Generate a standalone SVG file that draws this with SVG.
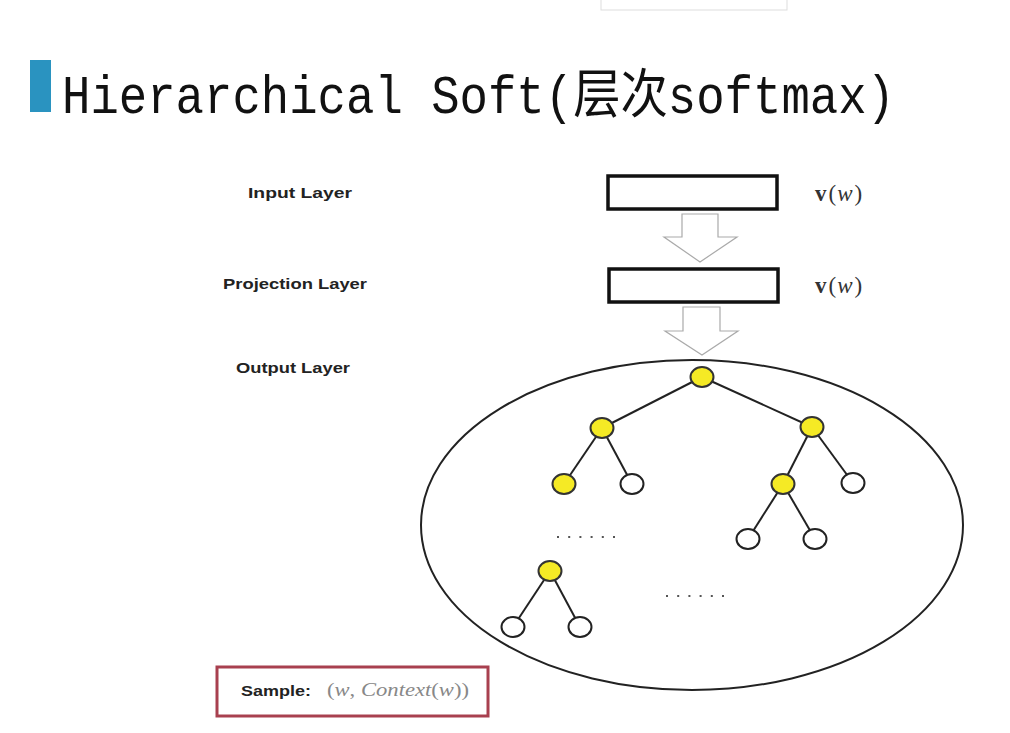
<svg xmlns="http://www.w3.org/2000/svg" width="1010" height="733" viewBox="0 0 1010 733">
<style>
.lbl{font-family:"Liberation Sans",Arial,sans-serif;font-weight:bold;font-size:15px;fill:#222}
.math{font-family:"Liberation Serif","Times New Roman",serif;font-size:23px;fill:#333}
.box{fill:#fff;stroke:#111;stroke-width:3.5}
.barrow{fill:#fff;stroke:#aaa;stroke-width:1.2}
.edge{stroke:#222;stroke-width:2;fill:none}
.yn{fill:#f5ea25;stroke:#333;stroke-width:2}
.wn{fill:#fff;stroke:#222;stroke-width:2}
.dots{stroke:#555;stroke-width:2.2;stroke-dasharray:2 9.2;fill:none}
</style>
<rect width="1010" height="733" fill="#fff"/>
<rect x="601" y="-5" width="186" height="15" fill="none" stroke="#ddd" stroke-width="1"/>
<g id="title">
<rect x="30" y="60" width="21" height="52" fill="#2a93c0"/>
<text transform="translate(62,113) scale(1,1.17)" x="0" y="0" font-family="Liberation Mono,'Noto Sans CJK SC',monospace" font-size="46" fill="#111" textLength="833" lengthAdjust="spacingAndGlyphs">Hierarchical Soft(层次softmax)</text>
</g>
<g id="labels">
<text class="lbl" x="248" y="198" textLength="104" lengthAdjust="spacingAndGlyphs">Input  Layer</text>
<text class="lbl" x="223" y="289" textLength="144" lengthAdjust="spacingAndGlyphs">Projection  Layer</text>
<text class="lbl" x="236" y="373" textLength="114" lengthAdjust="spacingAndGlyphs">Output Layer</text>
</g>
<g id="input-layer">
<rect class="box" x="608" y="176" width="169" height="33"/>
<text class="math" x="815" y="201"><tspan font-weight="bold">v</tspan><tspan dx="2">(</tspan><tspan dx="1" font-style="italic">w</tspan><tspan dx="2">)</tspan></text>
</g>
<g id="projection-layer">
<rect class="box" x="609" y="269" width="169" height="33"/>
<text class="math" x="815" y="293"><tspan font-weight="bold">v</tspan><tspan dx="2">(</tspan><tspan dx="1" font-style="italic">w</tspan><tspan dx="2">)</tspan></text>
</g>
<g id="connectors">
<path class="barrow" d="M682,214 H718 V237 H737 L700,262 L664,237 H682 Z"/>
<path class="barrow" d="M683,307 H720 V331 H738 L702,355 L665,331 H683 Z"/>
<line class="edge" x1="702" y1="377" x2="602" y2="428"/>
<line class="edge" x1="702" y1="377" x2="812" y2="427"/>
<line class="edge" x1="602" y1="428" x2="564" y2="484"/>
<line class="edge" x1="602" y1="428" x2="632" y2="484"/>
<line class="edge" x1="812" y1="427" x2="783" y2="484"/>
<line class="edge" x1="812" y1="427" x2="853" y2="483"/>
<line class="edge" x1="783" y1="484" x2="748" y2="539"/>
<line class="edge" x1="783" y1="484" x2="815" y2="539"/>
<line class="edge" x1="550" y1="571" x2="513" y2="627"/>
<line class="edge" x1="550" y1="571" x2="580" y2="627"/>
</g>
<g id="output-layer">
<ellipse cx="692" cy="525" rx="271" ry="165" fill="none" stroke="#222" stroke-width="2"/>
<path class="dots" d="M557,537 H615"/>
<path class="dots" d="M666,596 H724"/>
</g>
<g id="tree-nodes">
<ellipse class="yn" cx="702" cy="377" rx="11.5" ry="10"/>
<ellipse class="yn" cx="602" cy="428" rx="11.5" ry="10"/>
<ellipse class="yn" cx="812" cy="427" rx="11.5" ry="10"/>
<ellipse class="yn" cx="564" cy="484" rx="11.5" ry="10"/>
<ellipse class="wn" cx="632" cy="484" rx="11.5" ry="10"/>
<ellipse class="yn" cx="783" cy="484" rx="11.5" ry="10"/>
<ellipse class="wn" cx="853" cy="483" rx="11.5" ry="10"/>
<ellipse class="wn" cx="748" cy="539" rx="11.5" ry="10"/>
<ellipse class="wn" cx="815" cy="539" rx="11.5" ry="10"/>
<ellipse class="yn" cx="550" cy="571" rx="11.5" ry="10"/>
<ellipse class="wn" cx="513" cy="627" rx="11.5" ry="10"/>
<ellipse class="wn" cx="580" cy="627" rx="11.5" ry="10"/>
</g>
<g id="sample">
<rect x="217" y="667" width="271" height="49" fill="#fff" stroke="#a8404f" stroke-width="3"/>
<text class="lbl" x="241" y="696" textLength="70" lengthAdjust="spacingAndGlyphs">Sample:</text>
<text x="327" y="696" font-family="Liberation Serif,'Times New Roman',serif" font-size="18" fill="#888" textLength="142" lengthAdjust="spacingAndGlyphs">(<tspan font-style="italic">w</tspan>, <tspan font-style="italic">Context</tspan>(<tspan font-style="italic">w</tspan>))</text>
</g>
</svg>
